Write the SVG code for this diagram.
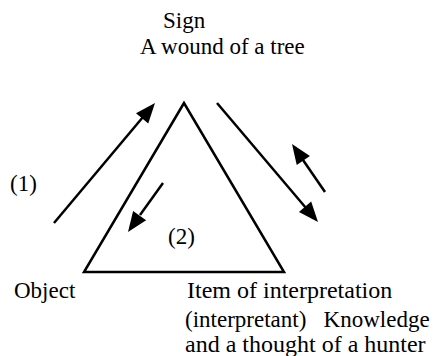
<svg xmlns="http://www.w3.org/2000/svg" width="439" height="356" viewBox="0 0 439 356">
<rect width="439" height="356" fill="#fff"/>
<g id="sign">
<text x="163" y="28" font-family="Liberation Serif" font-size="23">Sign</text>
<text x="140" y="54" font-family="Liberation Serif" font-size="23">A wound of a tree</text>
</g>
<g id="object">
<text x="14" y="298" font-family="Liberation Serif" font-size="23">Object</text>
</g>
<g id="interpretant">
<text x="187" y="298" font-family="Liberation Serif" font-size="24">Item of interpretation</text>
<text x="185" y="327" font-family="Liberation Serif" font-size="23" xml:space="preserve">(interpretant)   Knowledge</text>
<text x="185" y="352" font-family="Liberation Serif" font-size="24">and a thought of a hunter</text>
</g>
<g id="labels">
<text x="10" y="191" font-family="Liberation Serif" font-size="23">(1)</text>
<text x="168" y="244" font-family="Liberation Serif" font-size="23">(2)</text>
</g>
<g id="triangle">
<path d="M184,103 L84,272 L284,272 Z" stroke="#000" stroke-width="2.5" fill="none"/>
</g>
<g id="connectors">
<line x1="54" y1="223" x2="143" y2="117" stroke="#000" stroke-width="2.5"/>
<polygon points="155,103 148.24,123.45 136,113.15" fill="#000"/>
<line x1="217" y1="103" x2="306" y2="208" stroke="#000" stroke-width="2.5"/>
<polygon points="318,222 298.96,211.94 311.16,201.58" fill="#000"/>
<line x1="325" y1="192" x2="303" y2="160" stroke="#000" stroke-width="2.5"/>
<polygon points="292,144 309.92,155.95 296.74,165.01" fill="#000"/>
<line x1="163" y1="183" x2="140" y2="215" stroke="#000" stroke-width="2.5"/>
<polygon points="128,232 133.11,211.07 146.13,220.37" fill="#000"/>
</g>
</svg>
